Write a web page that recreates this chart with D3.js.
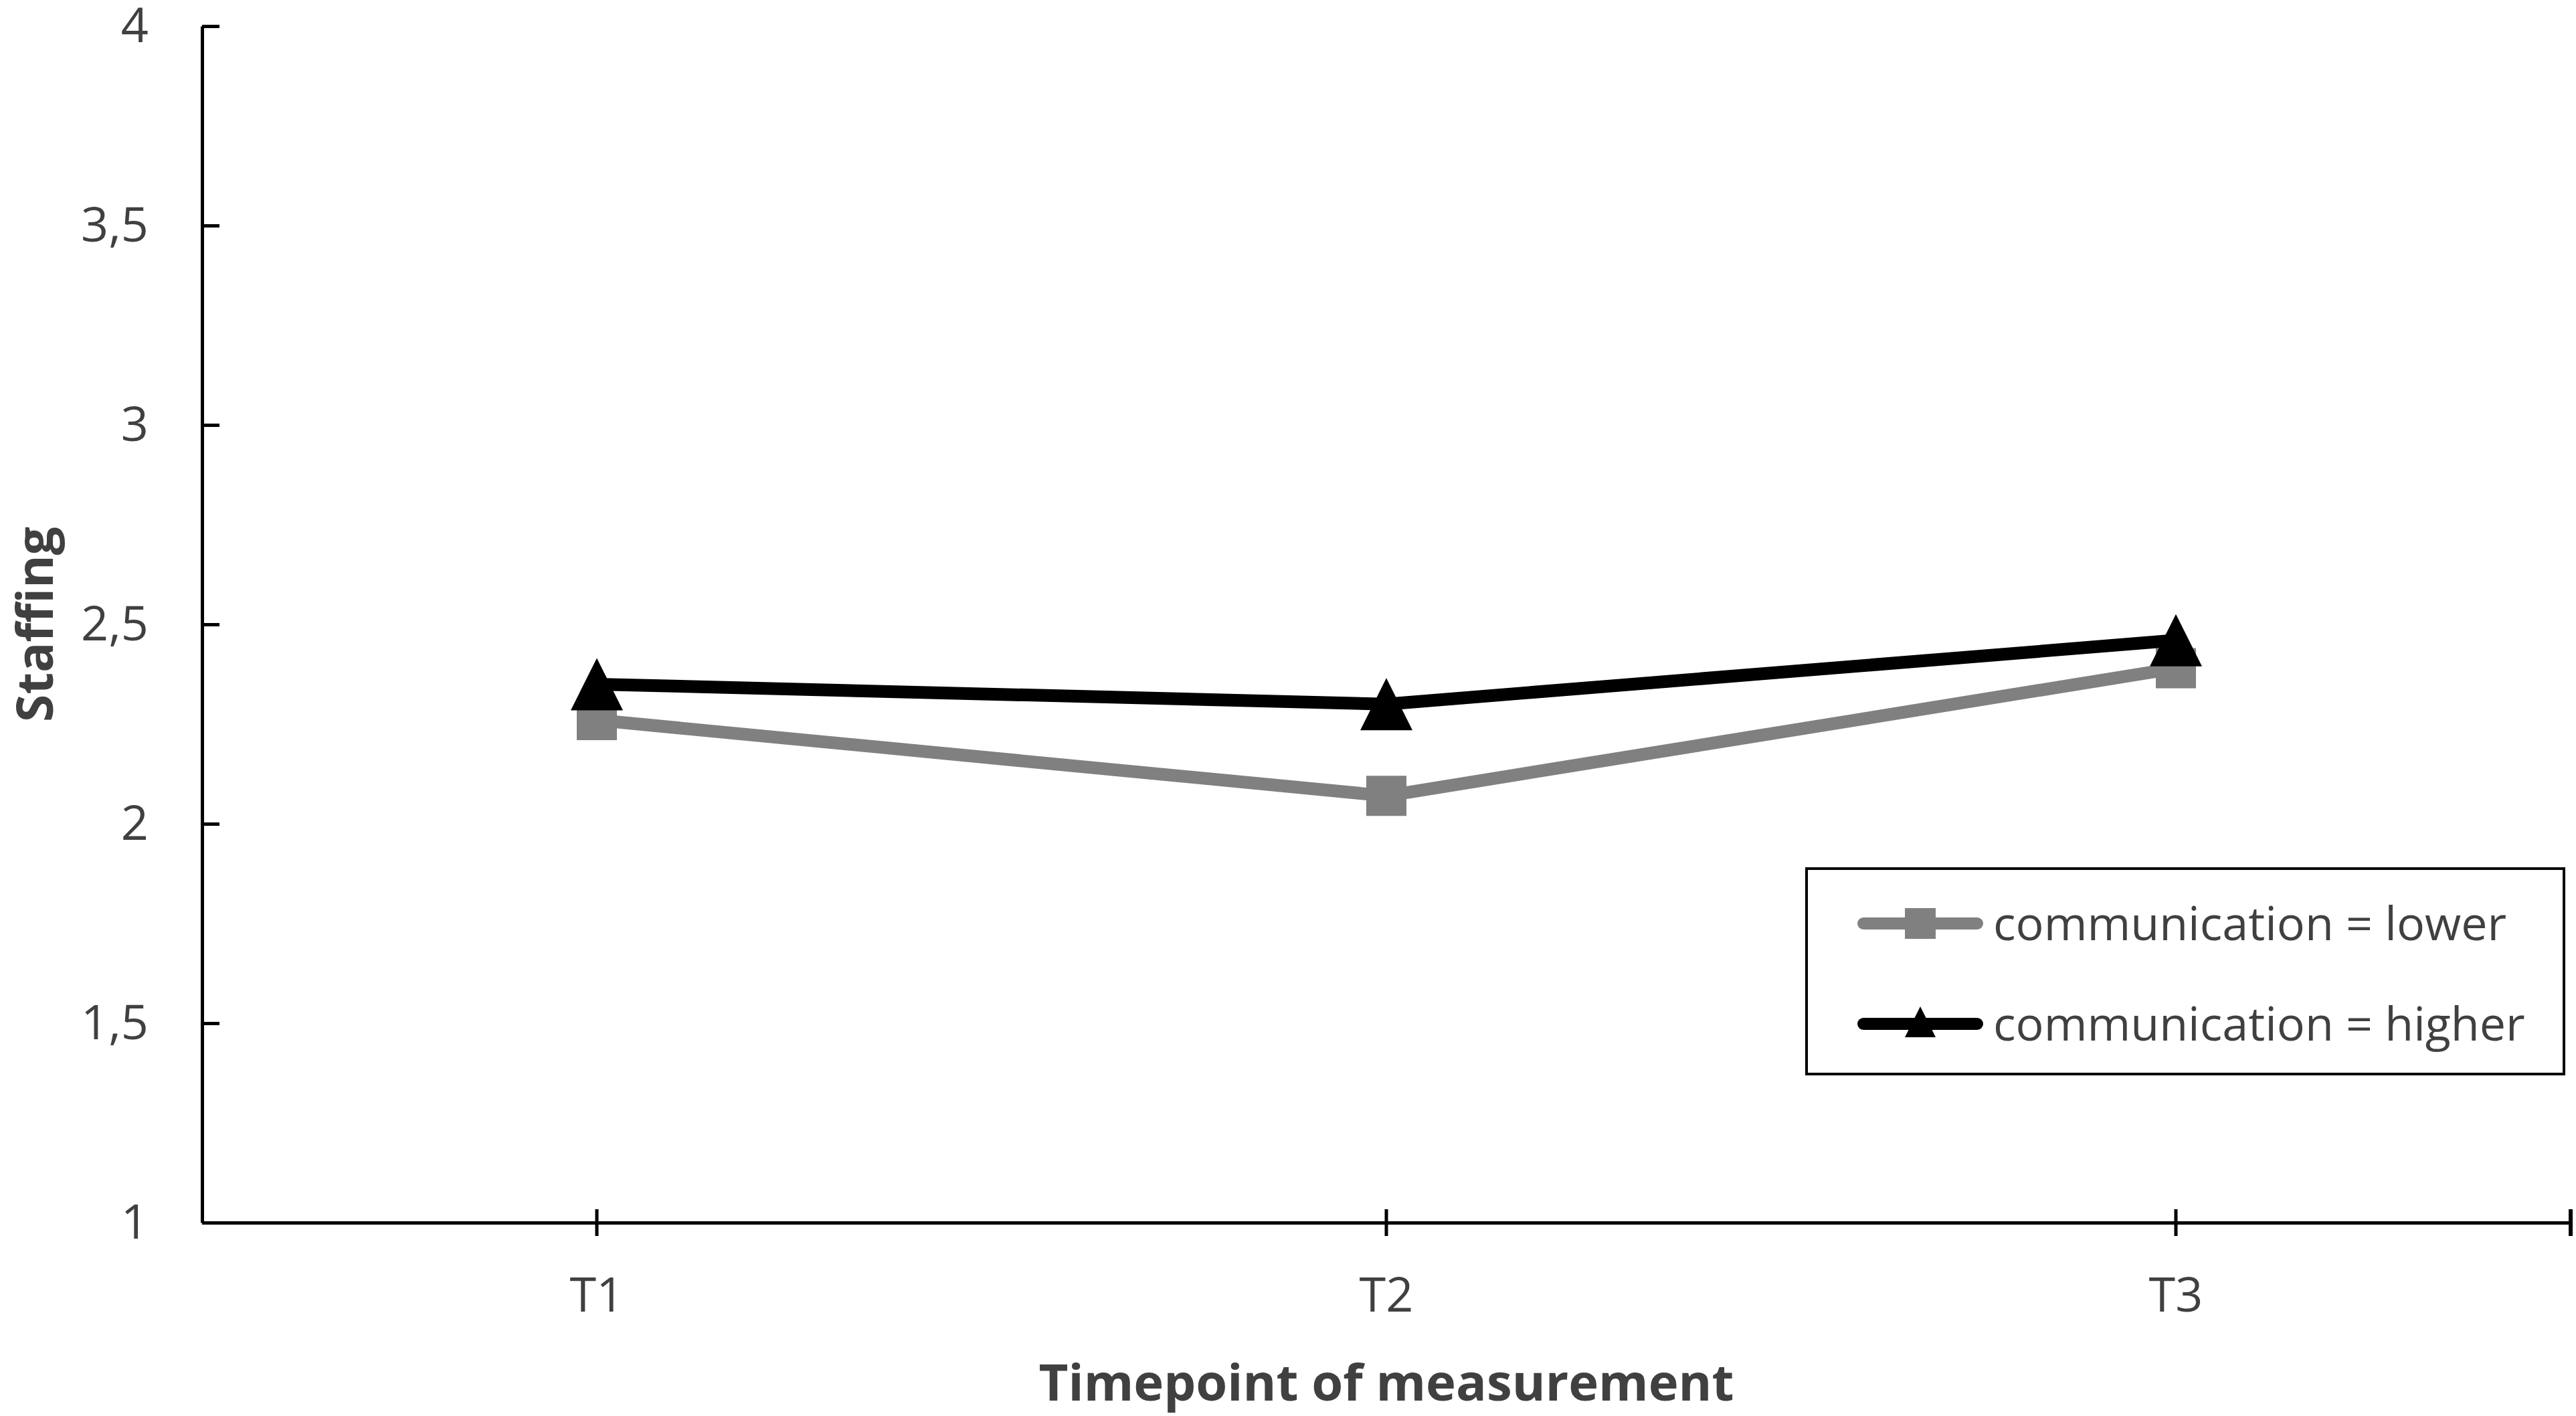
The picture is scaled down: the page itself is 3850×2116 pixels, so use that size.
<!DOCTYPE html>
<html>
<head>
<meta charset="utf-8">
<script src="https://cdn.jsdelivr.net/npm/d3@7"></script>
<style>
  html, body { margin: 0; padding: 0; background: #ffffff; }
  svg { display: block; }
</style>
</head>
<body>
<svg id="chart" width="3850" height="2116"></svg>
<script>
// ---- data ----
const categories = ["T1", "T2", "T3"];
const lowerValues = [2.26, 2.07, 2.39];
const higherValues = [2.35, 2.30, 2.46];
const yTickValues = [1, 1.5, 2, 2.5, 3, 3.5, 4];
const seriesNames = ["communication = lower", "communication = higher"];
const yTitle = "Staffing";
const xTitle = "Timepoint of measurement";

// ---- layout ----
const W = 3850, H = 2116;
const plot = { left: 302, right: 3842, top: 39, bottom: 1827 };
const textColor = "#404040";
const grayColor = "#808080";
const font = "'Open Sans', 'DejaVu Sans', sans-serif";

const svg = d3.select("#chart");
svg.append("rect").attr("width", W).attr("height", H).attr("fill", "#fff");

const x = d3.scaleBand().domain(categories).range([plot.left, plot.right]).padding(0);
const y = d3.scaleLinear().domain([1, 4]).range([plot.bottom, plot.top]);
const cx = c => x(c) + x.bandwidth() / 2;

// ---- y axis ----
const fmt = v => String(v).replace(".", ",");
const yAxis = d3.axisLeft(y).tickValues(yTickValues).tickFormat(fmt)
  .tickSize(-26).tickSizeOuter(0).tickPadding(80);
const gy = svg.append("g").attr("transform", `translate(${plot.left},0)`).call(yAxis);
gy.select(".domain").attr("stroke", "#000").attr("stroke-width", 5);
gy.selectAll(".tick line").attr("stroke", "#000").attr("stroke-width", 5);
gy.selectAll(".tick text").attr("font-family", font).attr("font-size", 72)
  .attr("fill", textColor);

// ---- x axis ----
const xAxis = d3.axisBottom(x).tickSize(20).tickSizeOuter(0).tickPadding(60);
const gx = svg.append("g").attr("transform", `translate(0,${plot.bottom})`).call(xAxis);
gx.select(".domain").attr("stroke", "#000").attr("stroke-width", 5);
gx.selectAll(".tick line").attr("y1", -20).attr("y2", 20)
  .attr("stroke", "#000").attr("stroke-width", 5);
gx.selectAll(".tick text").attr("font-family", font).attr("font-size", 72)
  .attr("fill", textColor).attr("y", 82).attr("dy", "0.71em");
// end tick at right boundary of the category axis
gx.append("line")
  .attr("x1", x.range()[1]).attr("x2", x.range()[1])
  .attr("y1", -20).attr("y2", 20)
  .attr("stroke", "#000").attr("stroke-width", 6);

// ---- titles ----
svg.append("text")
  .attr("transform", `translate(79,${(plot.top + plot.bottom) / 2}) rotate(-90)`)
  .attr("text-anchor", "middle")
  .attr("font-family", font).attr("font-weight", "bold").attr("font-size", 75)
  .attr("fill", textColor).text(yTitle);

svg.append("text")
  .attr("x", (plot.left + plot.right) / 2).attr("y", 2093)
  .attr("text-anchor", "middle")
  .attr("font-family", font).attr("font-weight", "bold").attr("font-size", 76)
  .attr("fill", textColor).text(xTitle);

// ---- series ----
const line = d3.line().x(d => cx(d.c)).y(d => y(d.v));
const lowerData = categories.map((c, i) => ({ c, v: lowerValues[i] }));
const higherData = categories.map((c, i) => ({ c, v: higherValues[i] }));

const triPath = (w, h) => `M0,${-h / 2}L${w / 2},${h / 2}L${-w / 2},${h / 2}Z`;

// lower series
svg.append("path").datum(lowerData).attr("d", line)
  .attr("fill", "none").attr("stroke", grayColor).attr("stroke-width", 19)
  .attr("stroke-linejoin", "round");
svg.append("g").selectAll("rect").data(lowerData).join("rect")
  .attr("x", d => cx(d.c) - 30).attr("y", d => y(d.v) - 30)
  .attr("width", 60).attr("height", 60)
  .attr("fill", grayColor);

// higher series
svg.append("path").datum(higherData).attr("d", line)
  .attr("fill", "none").attr("stroke", "#000").attr("stroke-width", 19)
  .attr("stroke-linejoin", "round");
svg.append("g").selectAll("path").data(higherData).join("path")
  .attr("transform", d => `translate(${cx(d.c)},${y(d.v)})`)
  .attr("d", triPath(78, 78))
  .attr("fill", "#000");

// ---- legend ----
const lg = svg.append("g");
lg.append("rect").attr("x", 2700).attr("y", 1298).attr("width", 1132).attr("height", 307)
  .attr("fill", "#fff").attr("stroke", "#000").attr("stroke-width", 4);
const rows = [
  { name: seriesNames[0], color: grayColor, y: 1380, marker: "square" },
  { name: seriesNames[1], color: "#000", y: 1530, marker: "triangle" }
];
rows.forEach(r => {
  lg.append("line").attr("x1", 2785).attr("x2", 2955).attr("y1", r.y).attr("y2", r.y)
    .attr("stroke", r.color).attr("stroke-width", 18).attr("stroke-linecap", "round");
  if (r.marker === "square") {
    lg.append("rect").attr("x", 2870 - 23).attr("y", r.y - 23)
      .attr("width", 46).attr("height", 46).attr("fill", r.color);
  } else {
    lg.append("path").attr("transform", `translate(2870,${r.y - 3})`)
      .attr("d", triPath(46, 46)).attr("fill", r.color);
  }
  lg.append("text").attr("x", 2979).attr("y", r.y).attr("dy", "0.36em")
    .attr("font-family", font).attr("font-size", 70).attr("fill", textColor)
    .text(r.name);
});
</script>
</body>
</html>
